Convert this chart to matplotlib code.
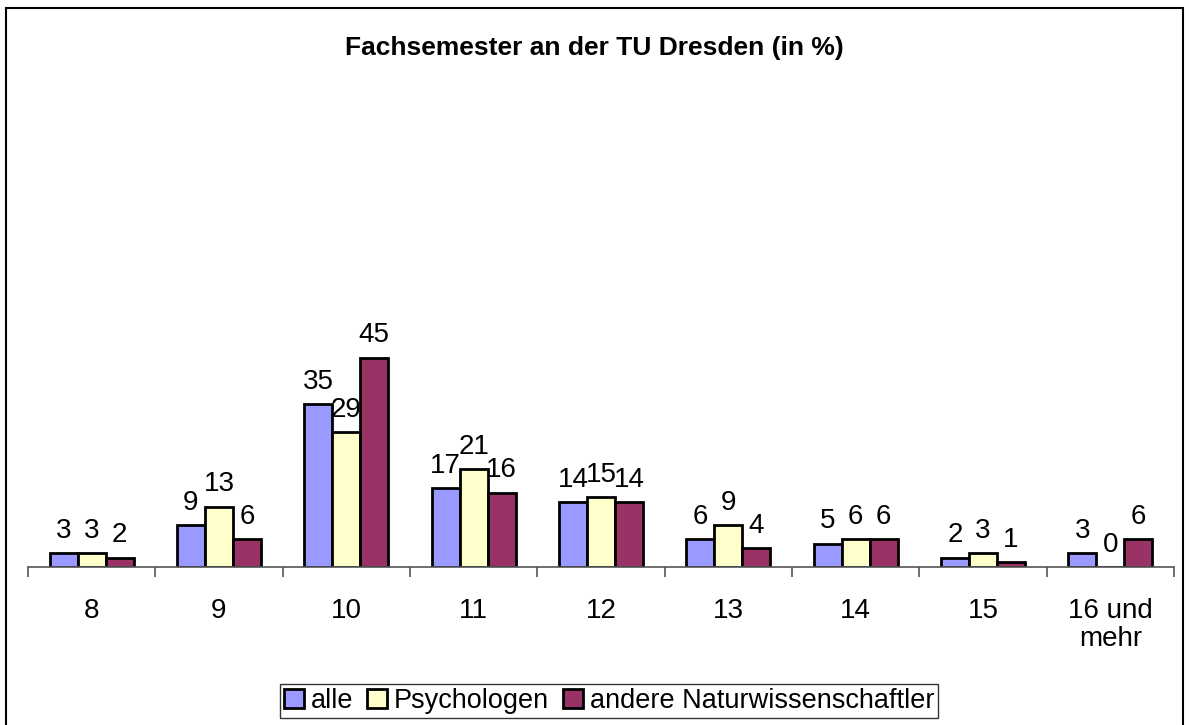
import matplotlib.pyplot as plt
import numpy as np
from matplotlib.patches import Rectangle

kategorien = ['8', '9', '10', '11', '12', '13', '14', '15', '16 und\nmehr']
alle = [3, 9, 35, 17, 14, 6, 5, 2, 3]
psychologen = [3, 13, 29, 21, 15, 9, 6, 3, 0]
andere = [2, 6, 45, 16, 14, 4, 6, 1, 6]
serien = ['alle', 'Psychologen', 'andere Naturwissenschaftler']


def main():
    plt.rcParams['font.family'] = ['Liberation Sans', 'DejaVu Sans']
    fig = plt.figure(figsize=(11.89, 7.25), dpi=100)
    ax = fig.add_axes([28 / 1189, 1 - 567 / 725, (1174 - 28) / 1189, (567 - 102) / 725])

    x = np.arange(len(kategorien))
    width = 0.22
    farben = ['#9999FF', '#FFFFCC', '#993366']
    daten = [alle, psychologen, andere]

    for k, (werte, farbe, name) in enumerate(zip(daten, farben, serien)):
        pos = x + (k - 1) * width
        bars = ax.bar(pos, werte, width, color=farbe, edgecolor='black',
                      linewidth=2, label=name)
        for b, w in zip(bars, werte):
            ax.text(b.get_x() + b.get_width() / 2, w + 2.0, str(w),
                    ha='center', va='bottom', fontsize=20)

    ax.set_xlim(-0.5, len(kategorien) - 0.5)
    ax.set_ylim(0, 100)
    for s in ['top', 'right', 'left']:
        ax.spines[s].set_visible(False)
    ax.spines['bottom'].set_color('#555555')
    ax.spines['bottom'].set_linewidth(1.2)
    ax.set_yticks([])

    ax.set_xticks(x)
    ax.set_xticklabels(kategorien, fontsize=20, va='top', linespacing=1.1)
    ax.tick_params(axis='x', which='major', length=0, pad=22)
    ax.set_xticks(np.arange(-0.5, len(kategorien), 1), minor=True)
    ax.tick_params(axis='x', which='minor', length=7, width=1.2,
                   color='#555555', direction='out')

    fig.text(0.5, 1 - 48 / 725, 'Fachsemester an der TU Dresden (in %)',
             ha='center', va='center', fontsize=19, fontweight='bold')

    leg = fig.legend(loc='center', bbox_to_anchor=(609 / 1189, 1 - 701 / 725),
                     ncol=3, fontsize=19.5, frameon=True, fancybox=False,
                     handlelength=0.75, handleheight=0.75, handletextpad=0.25,
                     columnspacing=0.5, borderpad=0.15, borderaxespad=0)
    leg.get_frame().set_edgecolor('black')
    leg.get_frame().set_linewidth(1)

    fig.patches.append(Rectangle((6 / 1189, -0.01), (1183 - 6) / 1189, 1 - 8 / 725 + 0.01,
                                 transform=fig.transFigure, fill=False,
                                 edgecolor='black', linewidth=1.5))

    fig.savefig('out.png', dpi=100)


if __name__ == "__main__":
    main()
